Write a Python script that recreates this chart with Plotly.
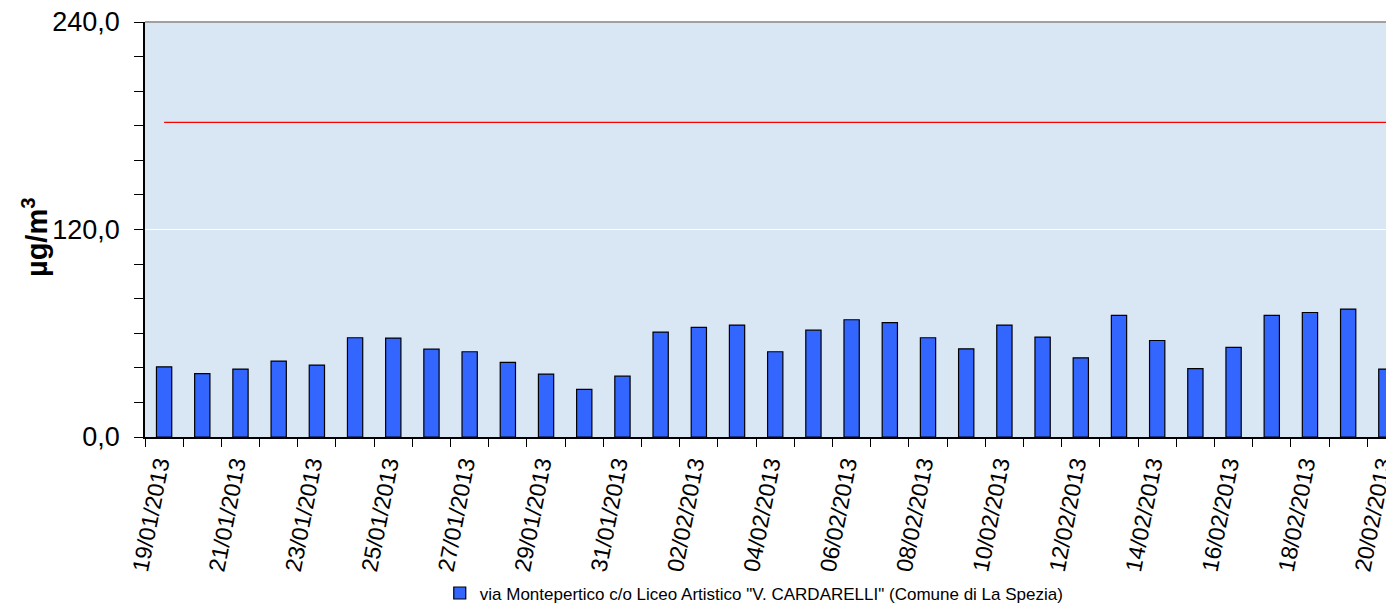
import plotly.graph_objects as go

dates = ["19/01/2013", "20/01/2013", "21/01/2013", "22/01/2013", "23/01/2013", "24/01/2013",
         "25/01/2013", "26/01/2013", "27/01/2013", "28/01/2013", "29/01/2013", "30/01/2013",
         "31/01/2013", "01/02/2013", "02/02/2013", "03/02/2013", "04/02/2013", "05/02/2013",
         "06/02/2013", "07/02/2013", "08/02/2013", "09/02/2013", "10/02/2013", "11/02/2013",
         "12/02/2013", "13/02/2013", "14/02/2013", "15/02/2013", "16/02/2013", "17/02/2013",
         "18/02/2013", "19/02/2013", "20/02/2013"]
values = [40.6, 36.6, 39.3, 43.9, 41.6, 57.4, 57.2, 50.8, 49.3, 43.1, 36.4, 27.5,
          35.2, 60.7, 63.4, 64.7, 49.3, 61.8, 67.8, 66.2, 57.4, 51.0, 64.7, 57.8,
          45.8, 70.3, 55.8, 39.6, 51.8, 70.3, 72.0, 74.0, 39.3]
threshold = [182.0] * len(dates)
series_name = 'via Montepertico c/o Liceo Artistico "V. CARDARELLI" (Comune di La Spezia)'
y_title = "<b>µg/m<sup>3</sup></b>"
y_ticks = [0, 120, 240]
y_ticktext = ["0,0", "120,0", "240,0"]

idx = list(range(len(dates)))
font = "Liberation Sans, Arial, sans-serif"

fig = go.Figure()
fig.add_trace(go.Bar(
    x=idx, y=values, name=series_name, width=0.4,
    marker=dict(color="#3366ff", line=dict(color="#000000", width=1.2)),
))
fig.add_trace(go.Scatter(
    x=idx, y=threshold, mode="lines", showlegend=False,
    line=dict(color="#ff0000", width=1.3),
))

# page has an 8px body margin: the figure is sized/offset to fill the window exactly
fig.update_layout(
    width=1386, height=596,
    margin=dict(l=137, r=0, t=14, b=166.7, autoexpand=False),
    paper_bgcolor="#ffffff",
    plot_bgcolor="#d9e7f5",
    font=dict(family=font, color="#000000"),
    showlegend=True,
    legend=dict(orientation="h", x=0.236, xanchor="left", y=-0.377, yanchor="middle",
                font=dict(size=17, family=font), itemwidth=30,
                bgcolor="rgba(0,0,0,0)"),
    bargap=0.6,
    shapes=[dict(type="line", xref="paper", yref="paper", x0=0, x1=1, y0=1, y1=1,
                 line=dict(color="#a0a0a0", width=2))],
    annotations=[dict(text=y_title, xref="paper", yref="paper", x=-0.088, y=0.482,
                      xanchor="center", yanchor="middle", textangle=-90, showarrow=False,
                      font=dict(size=29, family=font, color="#000000"))],
)
fig.update_xaxes(
    range=[-0.5, 32.2],
    automargin=False,
    tickmode="array",
    tickvals=[i - 0.15 for i in idx[::2]],
    ticktext=dates[::2],
    tickangle=-79,
    ticks="",
    ticklabelstandoff=3,
    ticklabeloverflow="allow",
    tickfont=dict(size=23, family=font),
    showline=True, linecolor="#000000", linewidth=1.5,
    showgrid=False, zeroline=False,
    minor=dict(tickmode="array", tickvals=[i - 0.5 for i in range(len(dates) + 1)],
               ticks="outside", ticklen=8, tickcolor="#000000", tickwidth=1.2, showgrid=False),
)
fig.update_yaxes(
    range=[0, 240],
    automargin=False,
    tickmode="array",
    tickvals=y_ticks,
    ticktext=y_ticktext,
    ticks="outside", ticklen=9, tickcolor="#000000", tickwidth=1.2,
    tickfont=dict(size=27, family=font),
    ticklabelstandoff=9,
    ticklabeloverflow="allow",
    showline=True, linecolor="#000000", linewidth=1.5,
    showgrid=True, gridcolor="#ffffff", gridwidth=1,
    zeroline=False,
    minor=dict(dtick=20, tick0=0, ticks="outside", ticklen=9, tickcolor="#000000",
               tickwidth=1.2, showgrid=False),
)

fig.write_html("out.html")
